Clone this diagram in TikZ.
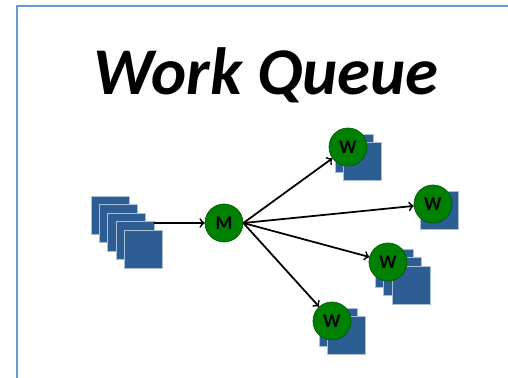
\documentclass[tikz,border=0pt]{standalone}
\usepackage{fontspec}
\setmainfont{Carlito}
\usetikzlibrary{positioning}
\definecolor{sqblue}{RGB}{44,94,148}
\definecolor{nodegreen}{RGB}{0,128,0}
\definecolor{framecol}{RGB}{106,155,209}

\begin{document}
\begin{tikzpicture}[x=0.02cm, y=-0.02cm,
    task/.style={fill=sqblue, draw=sqblue!40!white, line width=0.3pt},
    proc/.style={circle, fill=nodegreen, draw=nodegreen!70!black, line width=0.4pt,
        minimum size=0.76cm, inner sep=0pt, font=\fontsize{11}{12}\selectfont\bfseries},
    link/.style={->, line width=1pt}]
    \useasboundingbox (0,0) rectangle (508,378);

    % Frame
    \draw[framecol, line width=0.9pt] (17,378) -- (17,6) -- (508,6);

    % Title
    \node[anchor=base, font=\fontsize{38}{40}\selectfont\bfseries\itshape] (title) at (266,95) {Work Queue};

    % Task stack on the left
    \foreach \k in {0,...,4} {
        \path[task] (91+8.3*\k, 196+8.5*\k) rectangle ++(38,38);
    }
    \coordinate (queue) at (154,223);

    % Workers with their own stacks
    \foreach \name/\x/\y/\n in {w1/348/147/1, w2/433/204/0, w3/388/262/2, w4/332/321/1} {
        \foreach \k in {0,...,\n}
            \path[task] (\x-13+8.5*\k, \y-13+8.5*\k) rectangle ++(38,38);
        \node[proc] (\name) at (\x,\y) {W};
    }

    % Master
    \node[proc] (m) at (224,223) {M};

    % Connections
    \draw[link] (queue) -- (m);
    \foreach \name in {w1,w2,w3,w4}
        \draw[link] (m.east) -- (\name);
\end{tikzpicture}
\end{document}
